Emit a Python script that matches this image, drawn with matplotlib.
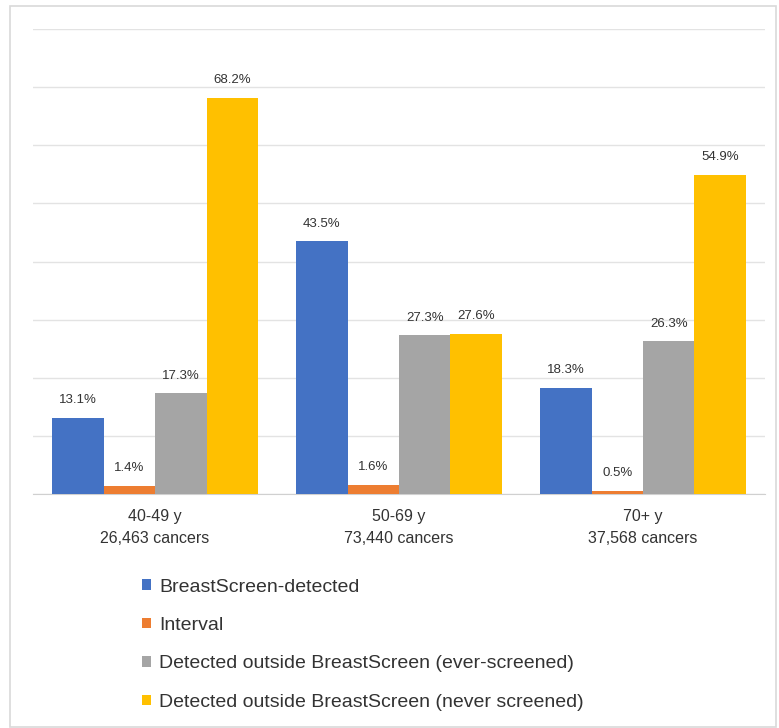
import numpy as np
import matplotlib.pyplot as plt
from matplotlib.patches import Rectangle

plt.rcParams['font.family'] = ['Liberation Sans', 'DejaVu Sans']

groups = ["40-49 y\n26,463 cancers", "50-69 y\n73,440 cancers", "70+ y\n37,568 cancers"]
series = ["BreastScreen-detected",
          "Interval",
          "Detected outside BreastScreen (ever-screened)",
          "Detected outside BreastScreen (never screened)"]
screen_detected = [13.1, 43.5, 18.3]
interval = [1.4, 1.6, 0.5]
ever_screened = [17.3, 27.3, 26.3]
never_screened = [68.2, 27.6, 54.9]
colors = ["#4472C4", "#ED7D31", "#A5A5A5", "#FFC000"]

values = [screen_detected, interval, ever_screened, never_screened]

fig = plt.figure(figsize=(7.79, 7.28), dpi=100)
ax = fig.add_axes([0.0424, 0.3214, 0.9396, 0.6386])

x = np.arange(len(groups))
w = 0.211
for i, (vals, name, c) in enumerate(zip(values, series, colors)):
    pos = x + (i - 1.5) * w
    bars = ax.bar(pos, vals, width=w, color=c, label=name, zorder=3)
    for b, v in zip(bars, vals):
        ax.text(b.get_x() + b.get_width() / 2, v + 2.0, f"{v}%",
                ha="center", va="bottom", fontsize=9.5, color="#333333")

ax.set_xlim(-0.5, 2.5)
ax.set_ylim(0, 80)
ax.set_yticks(np.arange(0, 81, 10))
ax.yaxis.grid(True, color="#E3E3E3", linewidth=1, zorder=0)
ax.tick_params(axis="y", left=False, labelleft=False)
ax.tick_params(axis="x", bottom=False, labelsize=11.5, colors="#333333", pad=7)
ax.set_xticks(x)
ax.set_xticklabels(groups, linespacing=1.6)
for s in ["top", "right", "left"]:
    ax.spines[s].set_visible(False)
ax.spines["bottom"].set_color("#D0D0D0")

fig.legend(loc="upper left", bbox_to_anchor=(0.172, 0.216), frameon=False,
           fontsize=14, handlelength=0.45, handleheight=0.45, handletextpad=0.45,
           labelspacing=1.1, labelcolor="#333333", borderaxespad=0)

fig.patches.append(Rectangle((10 / 779, 0.002), 766 / 779, 1 - 6 / 728 - 0.002,
                             transform=fig.transFigure, fill=False,
                             edgecolor="#D9D9D9", linewidth=1.2))

fig.savefig("out.png", dpi=100)
